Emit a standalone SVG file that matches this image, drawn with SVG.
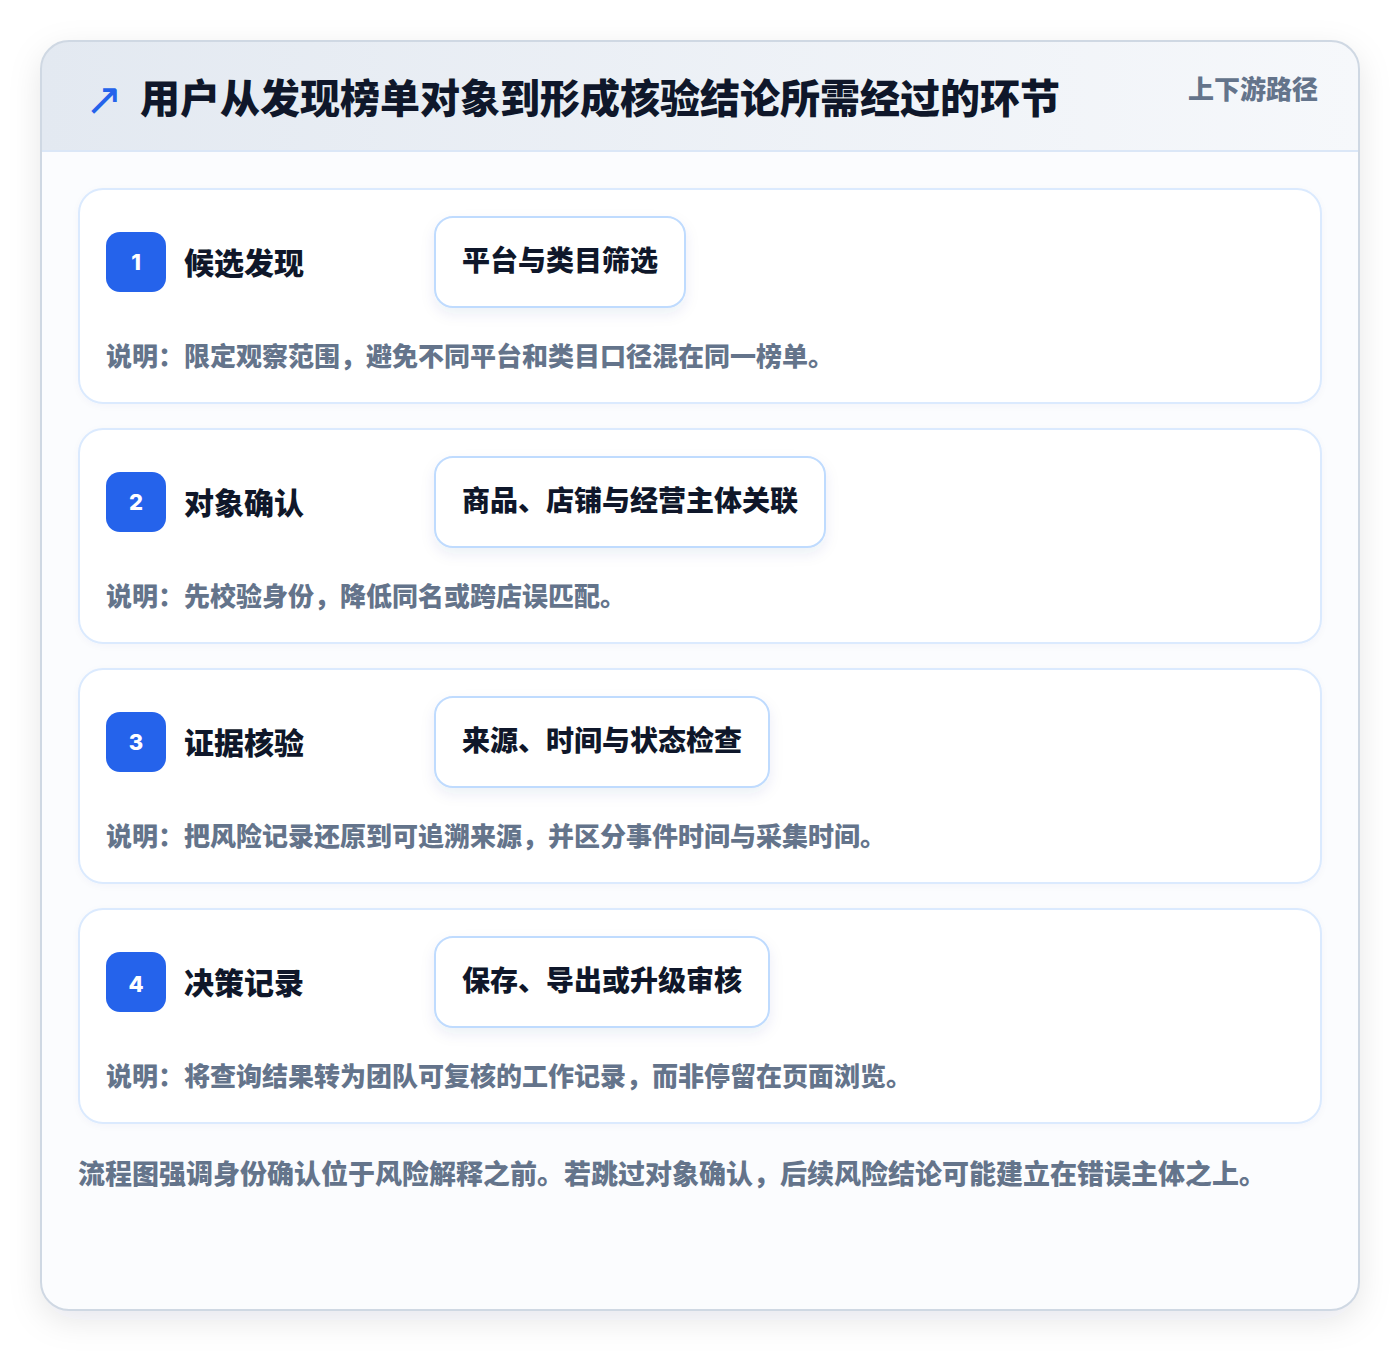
<svg xmlns="http://www.w3.org/2000/svg" width="1400" height="1352" viewBox="0 0 1400 1352">
  <defs>
    <linearGradient id="hdr" x1="0" y1="0" x2="1" y2="0">
      <stop offset="0" stop-color="#e3e9f1"/>
      <stop offset="1" stop-color="#f6f8fb"/>
    </linearGradient>
    <filter id="outerShadow" x="-10%" y="-10%" width="120%" height="120%">
      <feDropShadow dx="0" dy="10" stdDeviation="16" flood-color="#0f172a" flood-opacity="0.10"/>
    </filter>
    <filter id="boxShadow" x="-20%" y="-30%" width="140%" height="170%">
      <feDropShadow dx="0" dy="6" stdDeviation="7" flood-color="#1e3a8a" flood-opacity="0.08"/>
    </filter>
    <filter id="cardShadow" x="-5%" y="-10%" width="110%" height="125%">
      <feDropShadow dx="0" dy="2" stdDeviation="3" flood-color="#1e3a8a" flood-opacity="0.03"/>
    </filter>
    <clipPath id="outerClip">
      <rect x="41" y="41" width="1318" height="1269" rx="28"/>
    </clipPath>
  </defs>
  <style>
    .cjk { font-family: "Noto Sans CJK SC", "Noto Sans", sans-serif; font-weight: 800; }
    .title { font-size: 40px; fill: #0f172a; }
    .tag { font-size: 26px; fill: #64748b; }
    .card { fill: #ffffff; stroke: #dbeafe; stroke-width: 2; }
    .badge { fill: #2563eb; }
    .badgeText { font-family: "Inter", "Noto Sans", sans-serif; font-weight: 800; font-size: 22px; fill: #ffffff; }
    .stepTitle { font-size: 30px; fill: #0f172a; }
    .box { fill: #ffffff; stroke: #bfdbfe; stroke-width: 2; }
    .boxText { font-size: 28px; fill: #0f172a; }
    .desc { font-size: 26px; fill: #64748b; }
    .foot { font-size: 27px; fill: #64748b; }
  </style>

  <rect x="0" y="0" width="1400" height="1352" fill="#ffffff"/>

  <g id="frame">
    <rect x="41" y="41" width="1318" height="1269" rx="28" fill="#fbfcfe" filter="url(#outerShadow)"/>
    <g clip-path="url(#outerClip)">
      <rect x="41" y="41" width="1318" height="110" fill="url(#hdr)"/>
      <line x1="41" y1="151" x2="1359" y2="151" stroke="#dbe7f7" stroke-width="2"/>
    </g>
    <rect x="41" y="41" width="1318" height="1269" rx="28" fill="none" stroke="#cfd8e3" stroke-width="2"/>
  </g>

  <g id="header">
    <text x="85" y="115" font-family="'DejaVu Sans', sans-serif" font-size="45" fill="#2563eb">↗</text>
    <text class="cjk title" x="140" y="113">用户从发现榜单对象到形成核验结论所需经过的环节</text>
    <text class="cjk tag" x="1188" y="99">上下游路径</text>
  </g>

  <g id="step1">
    <rect class="card" x="79" y="189" width="1242" height="214" rx="24" filter="url(#cardShadow)"/>
    <rect class="badge" x="106" y="232" width="60" height="60" rx="14"/>
    <text class="badgeText" x="136" y="270" text-anchor="middle">1</text>
    <text class="cjk stepTitle" x="184" y="274">候选发现</text>
    <rect class="box" x="435" y="217" width="250" height="90" rx="18" filter="url(#boxShadow)"/>
    <text class="cjk boxText" x="462" y="271">平台与类目筛选</text>
    <text class="cjk desc" x="106" y="366">说明：限定观察范围，避免不同平台和类目口径混在同一榜单。</text>
  </g>

  <g id="step2">
    <rect class="card" x="79" y="429" width="1242" height="214" rx="24" filter="url(#cardShadow)"/>
    <rect class="badge" x="106" y="472" width="60" height="60" rx="14"/>
    <text class="badgeText" x="136" y="510" text-anchor="middle">2</text>
    <text class="cjk stepTitle" x="184" y="514">对象确认</text>
    <rect class="box" x="435" y="457" width="390" height="90" rx="18" filter="url(#boxShadow)"/>
    <text class="cjk boxText" x="462" y="511">商品、店铺与经营主体关联</text>
    <text class="cjk desc" x="106" y="606">说明：先校验身份，降低同名或跨店误匹配。</text>
  </g>

  <g id="step3">
    <rect class="card" x="79" y="669" width="1242" height="214" rx="24" filter="url(#cardShadow)"/>
    <rect class="badge" x="106" y="712" width="60" height="60" rx="14"/>
    <text class="badgeText" x="136" y="750" text-anchor="middle">3</text>
    <text class="cjk stepTitle" x="184" y="754">证据核验</text>
    <rect class="box" x="435" y="697" width="334" height="90" rx="18" filter="url(#boxShadow)"/>
    <text class="cjk boxText" x="462" y="751">来源、时间与状态检查</text>
    <text class="cjk desc" x="106" y="846">说明：把风险记录还原到可追溯来源，并区分事件时间与采集时间。</text>
  </g>

  <g id="step4">
    <rect class="card" x="79" y="909" width="1242" height="214" rx="24" filter="url(#cardShadow)"/>
    <rect class="badge" x="106" y="952" width="60" height="60" rx="14"/>
    <text class="badgeText" x="136" y="992" text-anchor="middle">4</text>
    <text class="cjk stepTitle" x="184" y="994">决策记录</text>
    <rect class="box" x="435" y="937" width="334" height="90" rx="18" filter="url(#boxShadow)"/>
    <text class="cjk boxText" x="462" y="991">保存、导出或升级审核</text>
    <text class="cjk desc" x="106" y="1086">说明：将查询结果转为团队可复核的工作记录，而非停留在页面浏览。</text>
  </g>

  <g id="connectors"></g>

  <g id="footer">
    <text class="cjk foot" x="78" y="1184">流程图强调身份确认位于风险解释之前。若跳过对象确认，后续风险结论可能建立在错误主体之上。</text>
  </g>
</svg>
